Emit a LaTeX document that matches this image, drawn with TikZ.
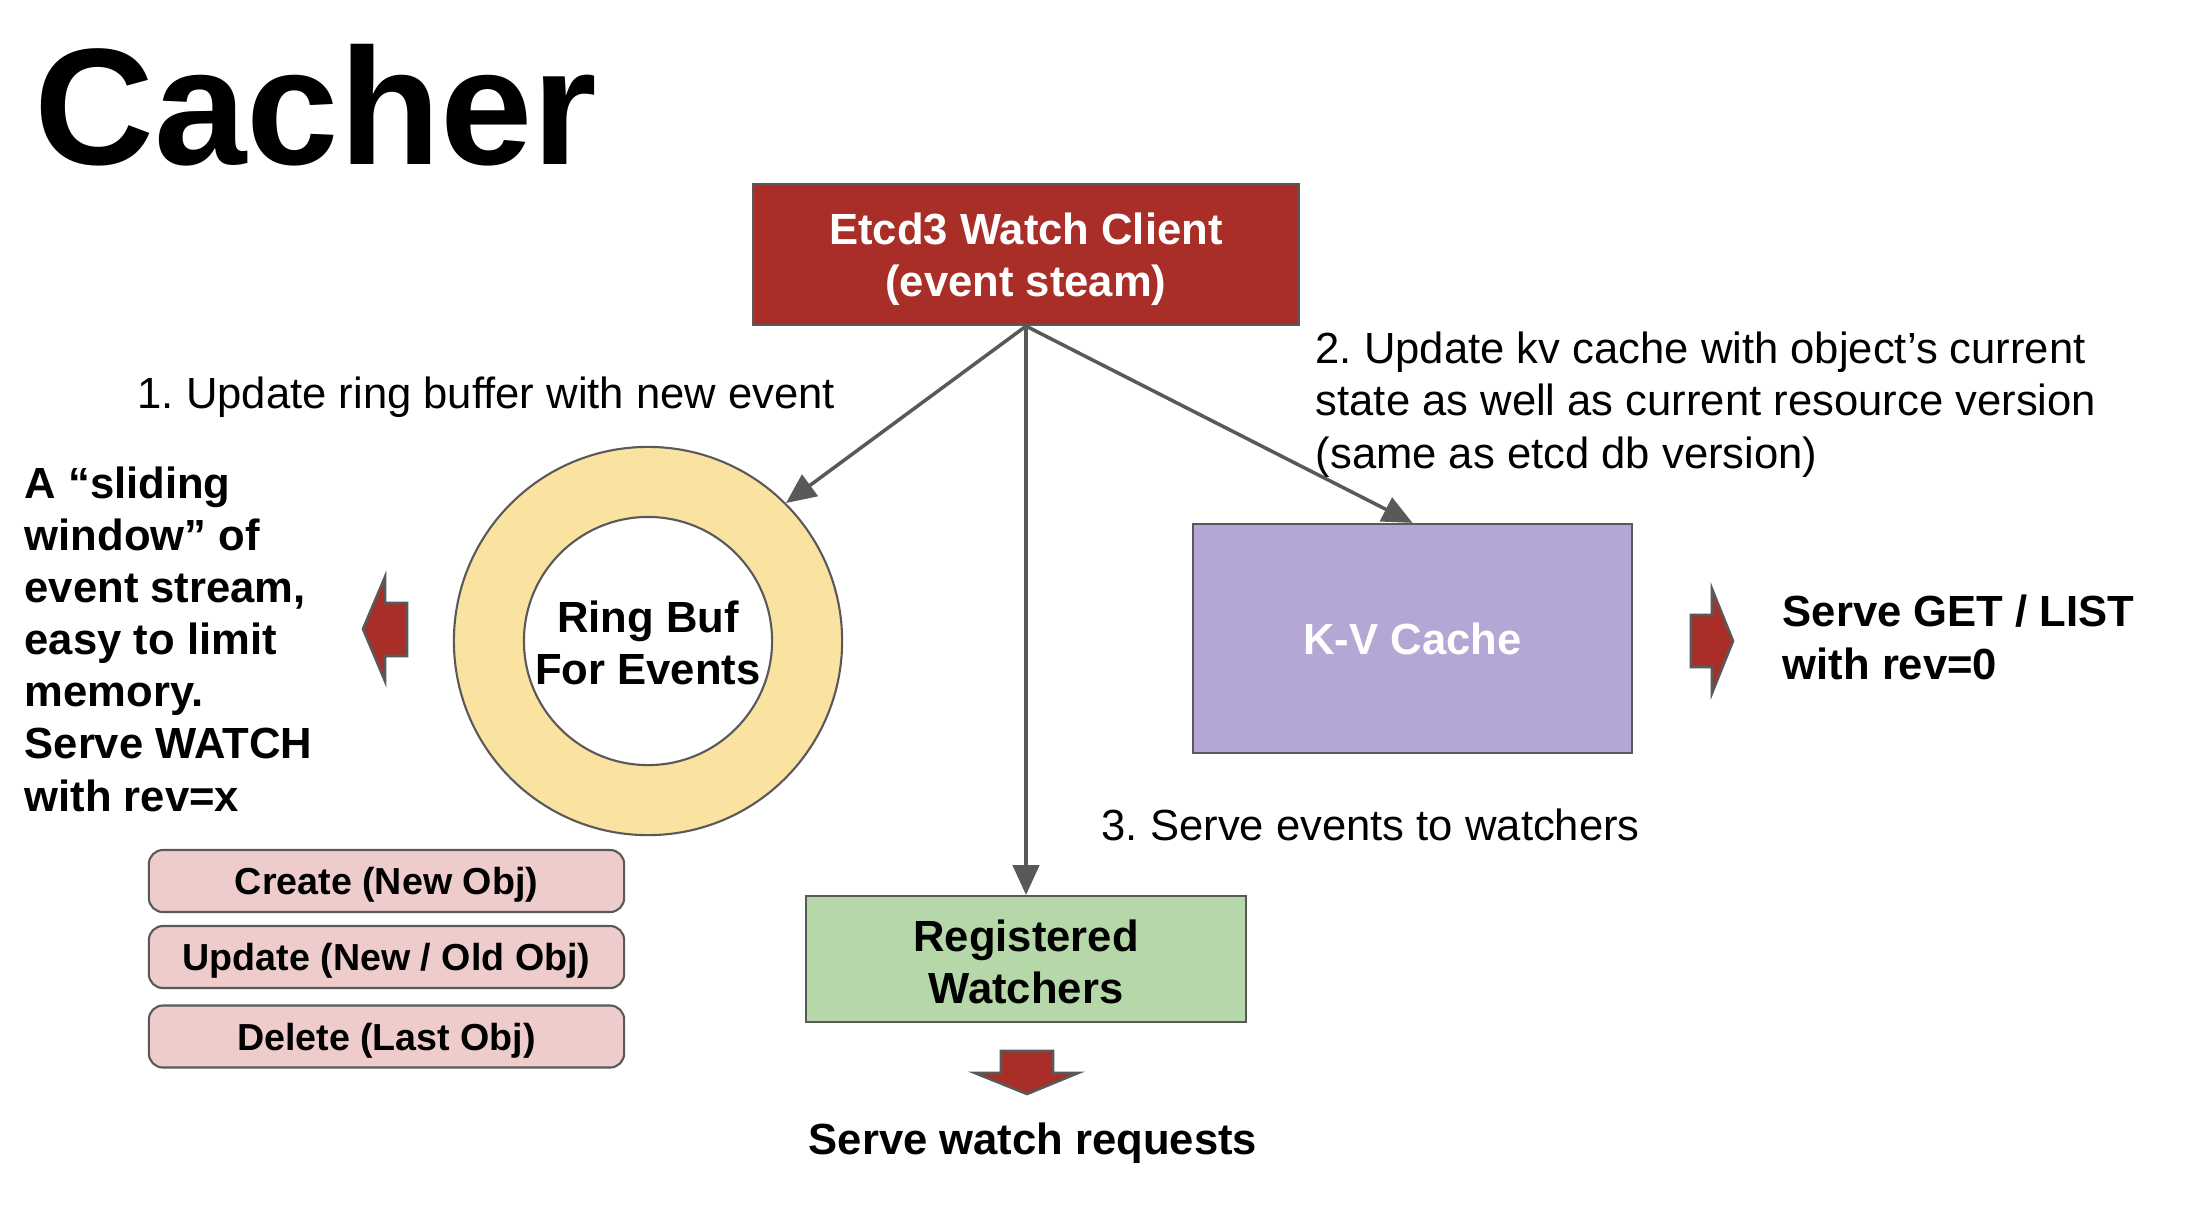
\documentclass[tikz,border=0pt]{standalone}
\usepackage{fontspec}
\setmainfont{Liberation Sans}
\usepackage{xcolor}
\usetikzlibrary{arrows.meta,positioning,calc}
\frenchspacing

\definecolor{etcdred}{HTML}{AA2E28}
\definecolor{ringyellow}{HTML}{FAE3A1}
\definecolor{kvpurple}{HTML}{B4A7D6}
\definecolor{watchgreen}{HTML}{B6D7A8}
\definecolor{evpink}{HTML}{EECCCC}
\definecolor{edgegray}{HTML}{595959}

\tikzset{
  txt/.style={font=\fontsize{12.4}{14.8}\selectfont, inner sep=0pt, align=left},
  btxt/.style={txt, font=\fontsize{12.4}{14.8}\selectfont\bfseries},
  box/.style={draw=edgegray, line width=0.6pt, inner sep=0pt, align=center,
    font=\fontsize{12.4}{14.8}\selectfont\bfseries},
  evbox/.style={box, fill=evpink, rounded corners=4pt, minimum width=4.75cm,
    minimum height=0.62cm, text height=0.95em, text depth=0.17em,
    font=\fontsize{10.7}{12.8}\selectfont\bfseries},
  flow/.style={draw=edgegray, line width=1pt, -{Triangle[length=8.5pt,width=7.5pt]}},
  fatarrow/.style={draw=edgegray, fill=etcdred, line width=0.75pt, line join=miter}
}

\begin{document}
\begin{tikzpicture}[x=0.01cm, y=-0.01cm]
    \useasboundingbox (0,0) rectangle (2186,1220);
    \node[anchor=base west, inner sep=0pt, font=\fontsize{47.2}{56}\selectfont\bfseries] (title) at (34,164) {Cacher};
    \node[box, fill=etcdred, text=white, minimum width=5.46cm, minimum height=1.41cm] (etcd) at (1026,254.5) {\rule{0pt}{0.96em}Etcd3 Watch Client\\(event steam)};
    \node[circle, draw=edgegray, line width=0.6pt, fill=ringyellow, minimum size=3.88cm] (ring) at (648,641) {};
    \node[circle, draw=edgegray, line width=0.6pt, fill=white, minimum size=2.48cm, inner sep=0pt, align=center,
      font=\fontsize{12.4}{14.8}\selectfont\bfseries] (buf) at (ring.center) {\rule{0pt}{0.8em}Ring Buf\\For Events};
    \node[box, fill=kvpurple, text=white, minimum width=4.39cm, minimum height=2.29cm] (kv) at (1412.5,638.5) {K-V Cache};
    \node[box, fill=watchgreen, minimum width=4.40cm, minimum height=1.26cm] (watchers) at (1026,959) {\rule{0pt}{0.87em}Registered\\Watchers};
    \node[evbox] (create) at (386.5,881) {Create (New Obj)};
    \node[evbox] (update) at (386.5,957) {Update (New / Old Obj)};
    \node[evbox] (delete) at (386.5,1036.5) {Delete (Last Obj)};

    \path (etcd.south) edge[flow] (ring.45);
    \path (etcd.south) edge[flow] (watchers.north);
    \path (etcd.south) edge[flow] (kv.north);

    \node[txt, anchor=base west] (step1) at (137,408) {1. Update ring buffer with new event};
    \node[txt, anchor=base west] (step2) at (1315,468) {2. Update kv cache with object’s current\\state as well as current resource version\\(same as etcd db version)};
    \node[txt, anchor=base west] (step3) at (1101,840) {3. Serve events to watchers};
    \node[btxt, anchor=base west] (window) at (24,811) {A “sliding\\window” of\\event stream,\\easy to limit\\memory.\\Serve WATCH\\with rev=x};
    \node[btxt, anchor=base west] (serveget) at (1782,679) {Serve GET / LIST\\with rev=0};
    \node[btxt, anchor=base] (servewatch) at (1033,1154) {Serve watch requests};

    \draw[fatarrow] (363,629) -- (385,577) -- (385,603) -- (407,603) -- (407,656) -- (385,656) -- (385,681) -- cycle;
    \draw[fatarrow] (1733,641) -- (1712,589) -- (1712,615) -- (1691,615) -- (1691,667) -- (1712,667) -- (1712,693) -- cycle;
    \draw[fatarrow] (1027,1094) -- (975,1073) -- (1001,1073) -- (1001,1051) -- (1053,1051) -- (1053,1073) -- (1078,1073) -- cycle;
\end{tikzpicture}
\end{document}
